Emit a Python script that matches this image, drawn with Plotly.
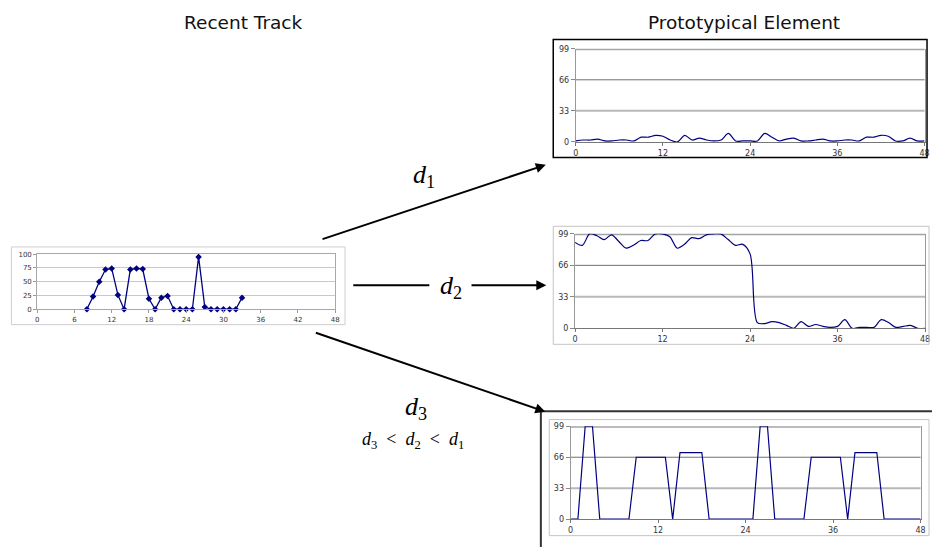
import plotly.graph_objects as go

W, H = 935, 549

# ---------------- data ----------------
track_hours = list(range(8, 34))
track_values = [0, 23, 50, 72, 74, 26, 0, 72, 74, 73, 19, 0, 21, 24,
                0, 0, 0, 0, 95, 4, 0, 0, 0, 0, 0, 21]
track_xticks = [0, 6, 12, 18, 24, 30, 36, 42, 48]
track_yticks = [0, 25, 50, 75, 100]

proto_hours = list(range(0, 49))
proto1 = [1, 2, 2, 3, 1, 1, 2, 2, 1, 5, 5, 7, 6, 2, 0, 7, 2, 4, 2, 1,
          2, 9, 1, 1, 1, 1, 9, 5, 1, 3, 4, 1, 1, 2, 3, 1, 1, 2, 2, 1,
          5, 5, 7, 6, 1, 1, 4, 1, 1]
proto2 = [90, 87, 99, 97, 93, 98, 91, 84, 87, 92, 92, 99, 99, 96, 84, 88, 95, 94, 98, 99,
          99, 93, 87, 88, 78, 6, 5, 7, 6, 3, 0, 7, 2, 4, 2, 1, 2, 9, 0, 1,
          1, 1, 9, 6, 1, 2, 3, 0, 0]
proto3 = [0, 0, 99, 99, 0, 0, 0, 0, 0, 66, 66, 66, 66, 66, 0, 71, 71, 71, 71, 0,
          0, 0, 0, 0, 0, 0, 99, 99, 0, 0, 0, 0, 0, 66, 66, 66, 66, 66, 0, 71,
          71, 71, 71, 0, 0, 0, 0, 0, 0]
proto_xticks = [0, 12, 24, 36, 48]
proto_yticks = [0, 33, 66, 99]

titles = ["Recent Track", "Prototypical Element"]
dist_labels = ["<i>d</i><sub>1</sub>", "<i>d</i><sub>2</sub>", "<i>d</i><sub>3</sub>"]
order_label = ("<i>d</i><sub>3</sub>&nbsp; &lt; &nbsp;<i>d</i><sub>2</sub>&nbsp; &lt; "
               "&nbsp;<i>d</i><sub>1</sub>")


def px(x):
    return x / W


def py(y):
    return 1 - y / H


NAVY = "#000080"
TICKFONT = dict(family="DejaVu Sans", size=7, color="#333")

fig = go.Figure()

# recent track
fig.add_trace(go.Scatter(
    x=track_hours, y=track_values, mode="lines+markers",
    line=dict(color=NAVY, width=1.3),
    marker=dict(symbol="diamond", size=5, color=NAVY),
    xaxis="x", yaxis="y", cliponaxis=False, showlegend=False))

protos = [proto1, proto2, proto3]
shapes_ = ["spline", "spline", "linear"]
for i, (vals, sh) in enumerate(zip(protos, shapes_)):
    n = i + 2
    fig.add_trace(go.Scatter(
        x=proto_hours, y=vals, mode="lines",
        line=dict(color=NAVY, width=1.2, shape=sh, smoothing=0.9),
        xaxis=f"x{n}", yaxis=f"y{n}", cliponaxis=False, showlegend=False))

layout = dict(
    width=W, height=H,
    margin=dict(l=0, r=0, t=0, b=0),
    paper_bgcolor="white", plot_bgcolor="rgba(0,0,0,0)",
    showlegend=False,
)

# small chart axes
layout["xaxis"] = dict(
    domain=[px(34.5), px(335)], range=[0, 48], tickvals=track_xticks,
    ticks="outside", ticklen=3, tickcolor="#999", showgrid=False, zeroline=False,
    showline=True, linecolor="#a8a8a8", mirror=True, tickfont=TICKFONT, anchor="y")
layout["yaxis"] = dict(
    domain=[py(310.3), py(254.3)], range=[0, 100], tickvals=track_yticks,
    ticks="outside", ticklen=3, tickcolor="#999", showgrid=True, gridcolor="#c8c8c8",
    zeroline=False, showline=True, linecolor="#a8a8a8", mirror=True,
    tickfont=TICKFONT, anchor="x")

proto_boxes = [
    # (left px, right px, y of 99, y of 0)
    (577.7, 929.5, 45.5, 140.2),
    (577.0, 930.0, 233.7, 329.7),
    (572.5, 925.5, 429.3, 523.8),
]
PFONT = dict(family="DejaVu Sans", size=8, color="#333")
for i, (l, r, t, b) in enumerate(proto_boxes):
    n = i + 2
    layout[f"xaxis{n}"] = dict(
        domain=[px(l), px(r)], range=[0, 48], tickvals=proto_xticks,
        ticks="outside", ticklen=3, tickcolor="#777", showgrid=False, zeroline=False,
        showline=True, linecolor="#777", mirror=False, tickfont=PFONT, anchor=f"y{n}")
    layout[f"yaxis{n}"] = dict(
        domain=[py(b), py(t)], range=[0, 99], tickvals=proto_yticks,
        ticks="outside", ticklen=4, tickcolor="#888", showgrid=False, zeroline=False,
        showline=True, linecolor="#999", mirror=True, tickfont=PFONT, anchor=f"x{n}")

fig.update_layout(**layout)

shapes = []
grid_style = {99: ("#a4a4a4", 3), 66: ("#707070", 1), 33: ("#b8b8b8", 2)}
for i in range(3):
    n = i + 2
    for v in proto_yticks[1:]:
        c, w = grid_style[v]
        shapes.append(dict(type="line", xref=f"x{n} domain", yref=f"y{n}",
                           x0=0, x1=1, y0=v, y1=v, line=dict(color=c, width=w),
                           layer="below"))

# frames
shapes.append(dict(type="rect", xref="paper", yref="paper",
                   x0=px(8.5), x1=px(345), y0=py(326), y1=py(247),
                   line=dict(color="#cfcfcf", width=1)))
shapes.append(dict(type="rect", xref="paper", yref="paper",
                   x0=px(555), x1=px(932), y0=py(156), y1=py(36),
                   line=dict(color="black", width=1.5)))
shapes.append(dict(type="rect", xref="paper", yref="paper",
                   x0=px(555), x1=px(934), y0=py(346), y1=py(226),
                   line=dict(color="#c4c4c4", width=1)))
shapes.append(dict(type="line", xref="paper", yref="paper",
                   x0=px(542.5), x1=px(542.5), y0=py(414), y1=py(552),
                   line=dict(color="#333", width=2)))
shapes.append(dict(type="line", xref="paper", yref="paper",
                   x0=px(542.5), x1=px(937), y0=py(414), y1=py(414),
                   line=dict(color="#333", width=2)))
shapes.append(dict(type="rect", xref="paper", yref="paper",
                   x0=px(551), x1=px(934), y0=py(540.5), y1=py(422.5),
                   line=dict(color="#c4c4c4", width=1)))
# left part of the d2 arrow
shapes.append(dict(type="line", xref="paper", yref="paper",
                   x0=px(353.3), x1=px(430), y0=py(286), y1=py(286),
                   line=dict(color="black", width=2)))
fig.update_layout(shapes=shapes)

ann = []
arrows = [((322.7, 238.3), (547.5, 163.5)),
          ((471.7, 286.0), (548.0, 286.0)),
          ((316.0, 335.0), (547.0, 414.5))]
for (sx, sy), (tx, ty) in arrows:
    ann.append(dict(x=px(tx), y=py(ty), xref="paper", yref="paper", text="",
                    showarrow=True, ax=sx - tx, ay=sy - ty, axref="pixel", ayref="pixel",
                    arrowhead=2, arrowsize=1, arrowwidth=2, arrowcolor="black",
                    standoff=0, startstandoff=0))

TFONT = dict(family="DejaVu Sans", size=18.5, color="#111")
ann.append(dict(x=px(243), y=py(18.5), xref="paper", yref="paper", text=titles[0],
                showarrow=False, font=TFONT, xanchor="center", yanchor="middle"))
ann.append(dict(x=px(747.5), y=py(18.5), xref="paper", yref="paper", text=titles[1],
                showarrow=False, font=TFONT, xanchor="center", yanchor="middle"))

MFONT = dict(family="Liberation Serif", size=26, color="black")
for (x, y), t in zip([(425, 175), (452, 288), (417, 411)], dist_labels):
    ann.append(dict(x=px(x), y=py(y), xref="paper", yref="paper", text=t,
                    showarrow=False, font=MFONT, xanchor="center", yanchor="middle"))
ann.append(dict(x=px(414), y=py(444), xref="paper", yref="paper", text=order_label,
                showarrow=False, font=dict(family="Liberation Serif", size=18, color="black"),
                xanchor="center", yanchor="middle"))
fig.update_layout(annotations=ann)

# place the figure at the very top-left of the page (no default body margin)
fig.write_html("out.html",
               config={"displayModeBar": False},
               post_script="document.body.style.margin='0';"
                           "document.body.style.overflow='hidden';")
